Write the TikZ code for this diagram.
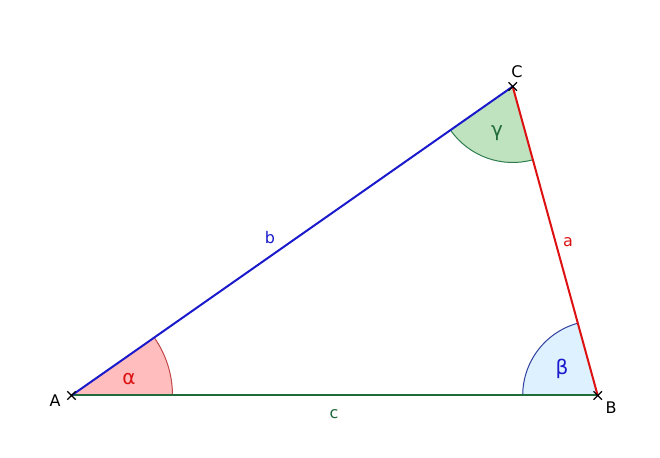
\documentclass[tikz,border=0pt]{standalone}
\usepackage{fontspec}
\setmainfont{DejaVu Sans}
\usetikzlibrary{angles,shapes.misc}
\definecolor{lblue}{HTML}{1A1ACC}
\definecolor{lred}{HTML}{DD1111}
\definecolor{lgreen}{HTML}{1F6B3A}
\definecolor{afill}{HTML}{FFBDBD}
\definecolor{aline}{HTML}{C04848}
\definecolor{bfill}{HTML}{DDF1FF}
\definecolor{bline}{HTML}{3040A0}
\definecolor{gfill}{HTML}{BFE2BF}
\definecolor{gline}{HTML}{2F7D4F}
\tikzset{
  side/.style={line width=2pt},
  arcstyle/.style={line width=1pt},
  vtx/.style={cross out,draw=black,line width=1.3pt,minimum size=7pt,inner sep=0pt},
  vlabel/.style={font=\fontsize{16}{16}\selectfont,text=black},
  slabel/.style={font=\fontsize{16}{16}\selectfont},
  glabel/.style={font=\fontsize{20}{20}\selectfont}
}
\begin{document}
\begin{tikzpicture}[x=1pt,y=1pt]
\useasboundingbox (0,0) rectangle (660,457);
\coordinate (A) at (71.5,61.5);
\coordinate (B) at (597.7,61.5);
\coordinate (C) at (512.7,370.5);
\pic[fill=afill, draw=aline, arcstyle, angle radius=101pt] {angle=B--A--C};
\pic[fill=bfill, draw=bline, arcstyle, angle radius=75pt] {angle=C--B--A};
\pic[fill=gfill, draw=gline, arcstyle, angle radius=76pt] {angle=A--C--B};
\draw[side, lgreen] (A) -- (B);
\draw[side, lred] (B) -- (C);
\draw[side, lblue] (C) -- (A);
\node[vtx] (xA) at (A) {};
\node[vtx] (xB) at (B) {};
\node[vtx] (xC) at (C) {};
\node[vlabel] (lA) at (55,56) {A};
\node[vlabel] (lB) at (611,49) {B};
\node[vlabel] (lC) at (517,385) {C};
\node[slabel, text=lblue] (lb) at (270,219) {b};
\node[slabel, text=lred] (la) at (568,215) {a};
\node[slabel, text=lgreen] (lc) at (334,43) {c};
\node[glabel, text=lred] (al) at (129,78) {α};
\node[glabel, text=lblue] (be) at (562,88) {β};
\node[glabel, text=lgreen] (ga) at (497,324) {γ};
\end{tikzpicture}
\end{document}
